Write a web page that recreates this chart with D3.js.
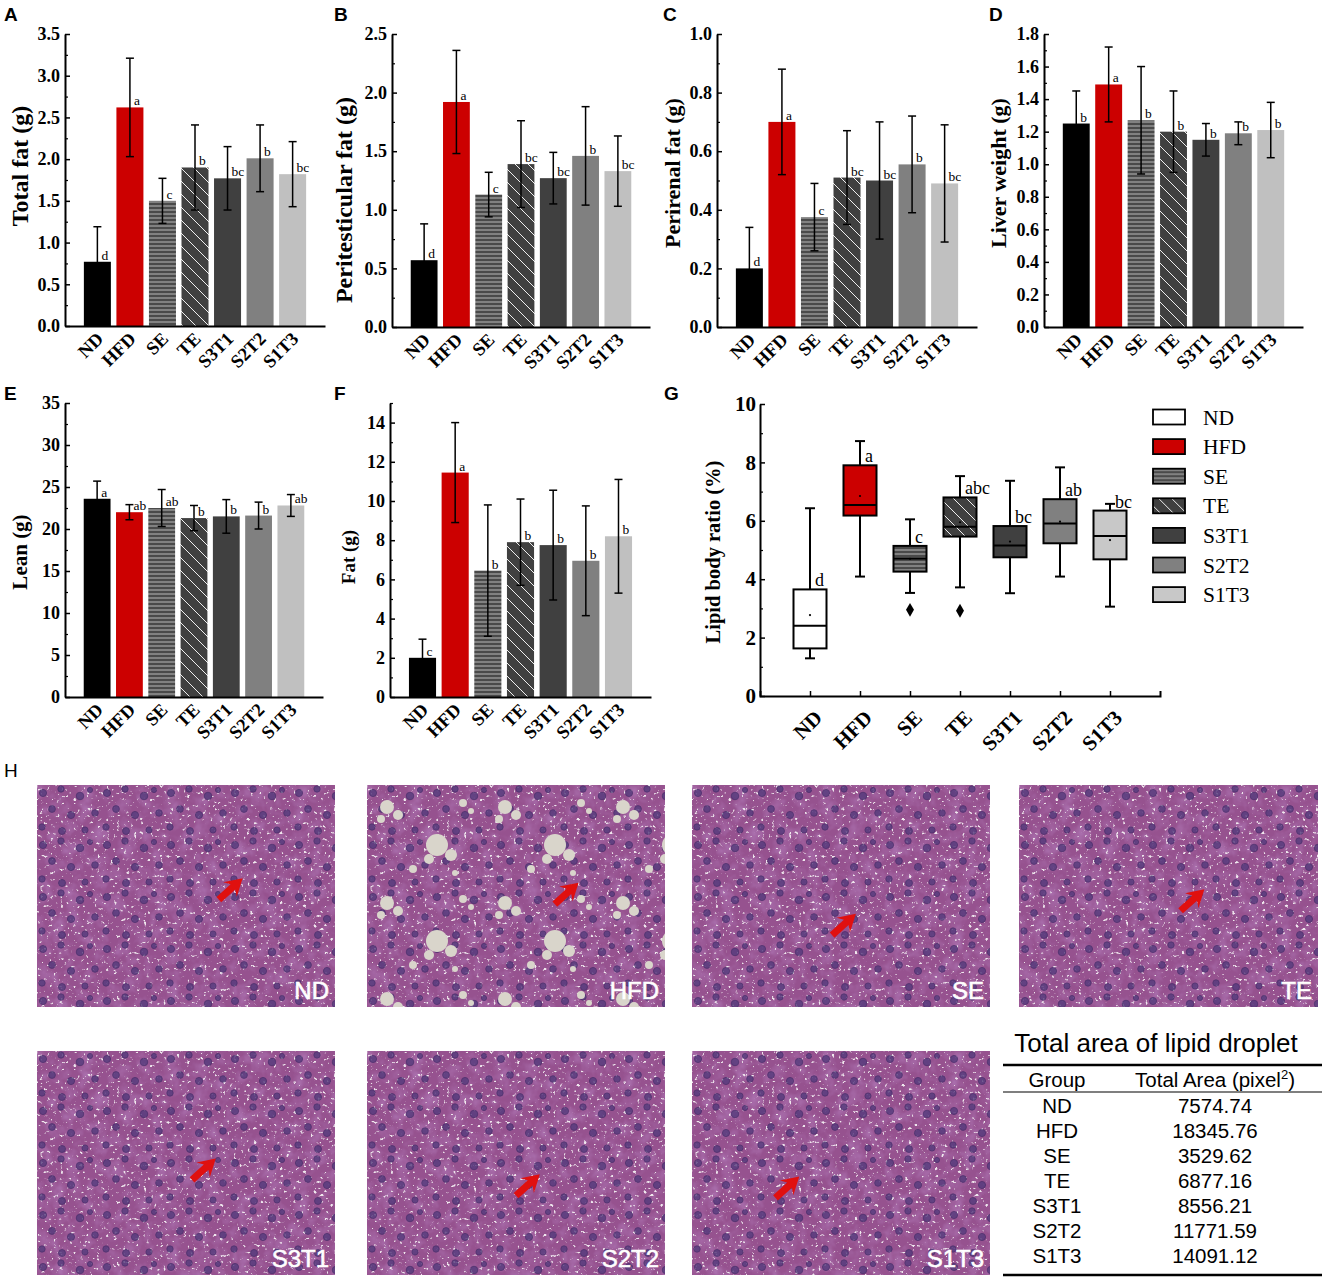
<!DOCTYPE html>
<html>
<head>
<meta charset="utf-8">
<script src="https://cdn.jsdelivr.net/npm/d3@7"></script>
<style>
  body { margin: 0; background: #fff; }
  svg { display: block; }
</style>
</head>
<body>
<div id="figure"></div>
<script>
// ---------- DATA ----------
const groups = ["ND", "HFD", "SE", "TE", "S3T1", "S2T2", "S1T3"];

// A: total fat (g)
const totalFatMean = [0.77, 2.62, 1.50, 1.90, 1.77, 2.01, 1.82];
const totalFatSD   = [0.42, 0.59, 0.27, 0.51, 0.38, 0.40, 0.39];
const totalFatSig  = ["d", "a", "c", "b", "bc", "b", "bc"];

// B: peritesticular fat (g)
const periTestMean = [0.57, 1.92, 1.13, 1.39, 1.27, 1.46, 1.33];
const periTestSD   = [0.31, 0.44, 0.19, 0.37, 0.22, 0.42, 0.30];
const periTestSig  = ["d", "a", "c", "bc", "bc", "b", "bc"];

// C: perirenal fat (g)
const periRenalMean = [0.20, 0.70, 0.375, 0.51, 0.50, 0.555, 0.49];
const periRenalSD   = [0.14, 0.18, 0.115, 0.16, 0.20, 0.165, 0.20];
const periRenalSig  = ["d", "a", "c", "bc", "bc", "b", "bc"];

// D: liver weight (g)
const liverMean = [1.25, 1.49, 1.27, 1.20, 1.15, 1.19, 1.21];
const liverSD   = [0.20, 0.23, 0.33, 0.25, 0.10, 0.07, 0.17];
const liverSig  = ["b", "a", "b", "b", "b", "b", "b"];

// E: lean (g)
const leanMean = [23.6, 22.0, 22.5, 21.3, 21.5, 21.6, 22.8];
const leanSD   = [2.1, 0.9, 2.2, 1.5, 2.0, 1.6, 1.3];
const leanSig  = ["a", "ab", "ab", "b", "b", "b", "ab"];

// F: fat (g)
const fatMean = [2.0, 11.45, 6.45, 7.9, 7.75, 6.95, 8.2];
const fatSD   = [0.95, 2.55, 3.35, 2.2, 2.8, 2.8, 2.9];
const fatSig  = ["c", "a", "b", "b", "b", "b", "b"];

// G: lipid body ratio (%) box plot
const lipidMin      = [1.29, 4.09, 3.53, 3.72, 3.52, 4.09, 3.06];
const lipidQ1       = [1.63, 6.18, 4.26, 5.46, 4.75, 5.23, 4.68];
const lipidMedian   = [2.41, 6.54, 4.71, 5.80, 5.15, 5.91, 5.48];
const lipidQ3       = [3.65, 7.90, 5.14, 6.80, 5.82, 6.74, 6.35];
const lipidMax      = [6.43, 8.73, 6.05, 7.53, 7.37, 7.83, 6.58];
const lipidMean     = [2.77, 6.85, 4.70, 5.95, 5.29, 5.97, 5.34];
const lipidOutliers = [[], [], [2.95], [2.92], [], [], []];
const lipidSig      = ["d", "a", "c", "abc", "bc", "ab", "bc"];

// H: table
const areaValues = [7574.74, 18345.76, 3529.62, 6877.16, 8556.21, 11771.59, 14091.12];

// ---------- STYLE ----------
const SERIF = "'Liberation Serif','Times New Roman',serif";
const SANS = "'Liberation Sans',Arial,sans-serif";
const barFill = ["#000000", "#cc0000", "url(#patSE)", "url(#patTE)", "#404040", "#808080", "#c0c0c0"];
const boxFill = ["#ffffff", "#cc0000", "url(#patSE)", "url(#patTE)", "#404040", "#808080", "#c8c8c8"];

const barPanels = [
  { tag: "A", tagPos: [4, 21], mean: totalFatMean, sd: totalFatSD, sig: totalFatSig,
    label: "Total fat (g)", labelSize: 24, labelX: 28, labelCy: 166,
    max: 3.5, step: 0.5, fmt: ".1f", box: [65, 325, 34, 326] },
  { tag: "B", tagPos: [334, 21], mean: periTestMean, sd: periTestSD, sig: periTestSig,
    label: "Peritesticular fat (g)", labelSize: 24, labelX: 352, labelCy: 200,
    max: 2.5, step: 0.5, fmt: ".1f", box: [392, 650, 34, 327] },
  { tag: "C", tagPos: [663, 21], mean: periRenalMean, sd: periRenalSD, sig: periRenalSig,
    label: "Perirenal fat (g)", labelSize: 22, labelX: 680, labelCy: 173,
    max: 1.0, step: 0.2, fmt: ".1f", box: [717, 977, 34, 327] },
  { tag: "D", tagPos: [989, 21], mean: liverMean, sd: liverSD, sig: liverSig,
    label: "Liver weight (g)", labelSize: 22, labelX: 1006, labelCy: 173,
    max: 1.8, step: 0.2, fmt: ".1f", box: [1044, 1303, 34, 327] },
  { tag: "E", tagPos: [4, 400], mean: leanMean, sd: leanSD, sig: leanSig,
    label: "Lean (g)", labelSize: 21, labelX: 27, labelCy: 552,
    max: 35, step: 5, fmt: "d", box: [65, 323, 403, 697] },
  { tag: "F", tagPos: [334, 400], mean: fatMean, sd: fatSD, sig: fatSig,
    label: "Fat (g)", labelSize: 19, labelX: 355, labelCy: 557,
    max: 15, topTick: 14, step: 2, fmt: "d", box: [390, 651, 403, 697] }
];

const svg = d3.select("#figure").append("svg")
  .attr("width", 1325).attr("height", 1279)
  .attr("viewBox", "0 0 1325 1279");

// ---------- PATTERNS / FILTERS ----------
const defs = svg.append("defs");
const pSE = defs.append("pattern").attr("id", "patSE")
  .attr("patternUnits", "userSpaceOnUse").attr("width", 8).attr("height", 4);
pSE.append("rect").attr("width", 8).attr("height", 4).attr("fill", "#4a4a4a");
pSE.append("rect").attr("y", 1.5).attr("width", 8).attr("height", 1).attr("fill", "#b8b8b8");

const pTE = defs.append("pattern").attr("id", "patTE")
  .attr("patternUnits", "userSpaceOnUse").attr("width", 13).attr("height", 13);
pTE.append("rect").attr("width", 13).attr("height", 13).attr("fill", "#404040");
pTE.append("path").attr("d", "M-3,-3L16,16M-3,10L3,16M10,-3L16,3")
  .attr("stroke", "#eeeeee").attr("stroke-width", 1);

// histology placeholder texture: mottled stain + pale specks + nuclei
const fMottle = defs.append("filter").attr("id", "mottle")
  .attr("x", 0).attr("y", 0).attr("width", 1).attr("height", 1);
fMottle.append("feTurbulence").attr("type", "fractalNoise")
  .attr("baseFrequency", 0.07).attr("numOctaves", 3).attr("seed", 4);
fMottle.append("feColorMatrix").attr("type", "matrix")
  .attr("values", "0 0 0 0 0.40  0 0 0 0 0.16  0 0 0 0 0.42  2.2 0 0 0 -0.95");

const fSpeck = defs.append("filter").attr("id", "specks")
  .attr("x", 0).attr("y", 0).attr("width", 1).attr("height", 1);
fSpeck.append("feTurbulence").attr("type", "fractalNoise")
  .attr("baseFrequency", 0.3).attr("numOctaves", 2).attr("seed", 11);
fSpeck.append("feColorMatrix").attr("type", "matrix")
  .attr("values", "0 0 0 0 0.86  0 0 0 0 0.80  0 0 0 0 0.85  8 0 0 0 -5.2");

const pN = defs.append("pattern").attr("id", "nuclei")
  .attr("patternUnits", "userSpaceOnUse").attr("width", 64).attr("height", 52);
pN.selectAll("circle")
  .data([[6, 8, 3.6], [24, 4, 3.2], [43, 11, 3.8], [58, 28, 3.3], [15, 24, 3.4],
         [34, 30, 3.6], [5, 42, 3.2], [25, 46, 3.5], [48, 45, 3.1], [53, 5, 2.6]])
  .join("circle").attr("cx", d => d[0]).attr("cy", d => d[1]).attr("r", d => d[2])
  .attr("fill", "#533a7c").attr("stroke", "#3c2462").attr("stroke-width", 0.8)
  .attr("opacity", 0.8);

const pF = defs.append("pattern").attr("id", "droplets")
  .attr("patternUnits", "userSpaceOnUse").attr("width", 118).attr("height", 96);
pF.selectAll("circle")
  .data([[20, 22, 7], [31, 30, 5], [14, 34, 4], [70, 60, 11], [84, 70, 6], [62, 74, 5],
         [96, 18, 4], [104, 26, 3], [46, 84, 4], [88, 88, 3]])
  .join("circle").attr("cx", d => d[0]).attr("cy", d => d[1]).attr("r", d => d[2])
  .attr("fill", "#d9d5cb");

// ---------- HELPERS ----------
function styleAxis(ga, size) {
  ga.attr("font-family", SERIF).attr("font-size", size).attr("font-weight", "bold");
  ga.select(".domain").attr("stroke-width", 2);
  ga.selectAll(".tick line").attr("stroke-width", 1.5);
}

function panelTag(t, pos, weight) {
  svg.append("text").attr("x", pos[0]).attr("y", pos[1])
    .attr("font-family", SANS).attr("font-size", 19)
    .attr("font-weight", weight || "bold").text(t);
}

function yLabel(text, x, cy, size) {
  svg.append("text")
    .attr("transform", `translate(${x},${cy}) rotate(-90)`)
    .attr("text-anchor", "middle")
    .attr("font-family", SERIF).attr("font-weight", "bold")
    .attr("font-size", size).text(text);
}

// ---------- BAR PANELS ----------
function drawBarPanel(p) {
  const [x0, x1, y0, y1] = p.box;
  const g = svg.append("g");
  const x = d3.scaleBand().domain(groups).range([x0, x1])
    .paddingInner(0.17).paddingOuter(0.58);
  const y = d3.scaleLinear().domain([0, p.max]).range([y1, y0]);
  const top = p.topTick !== undefined ? p.topTick : p.max;
  const majors = d3.range(0, top + 1e-9, p.step);
  const minors = d3.range(p.step / 2, p.max + 1e-9, p.step);
  const cx = d => x(d) + x.bandwidth() / 2;

  g.selectAll("rect.bar").data(groups).join("rect")
    .attr("class", "bar")
    .attr("x", d => x(d)).attr("width", x.bandwidth())
    .attr("y", (d, i) => y(p.mean[i]))
    .attr("height", (d, i) => y(0) - y(p.mean[i]))
    .attr("fill", (d, i) => barFill[i]);

  const eb = g.selectAll("g.err").data(groups).join("g").attr("class", "err")
    .attr("stroke", "#000").attr("stroke-width", 1.5);
  eb.append("line")
    .attr("x1", cx).attr("x2", cx)
    .attr("y1", (d, i) => y(p.mean[i] + p.sd[i]))
    .attr("y2", (d, i) => y(p.mean[i] - p.sd[i]));
  eb.append("line")
    .attr("x1", d => cx(d) - 4).attr("x2", d => cx(d) + 4)
    .attr("y1", (d, i) => y(p.mean[i] + p.sd[i]))
    .attr("y2", (d, i) => y(p.mean[i] + p.sd[i]));
  eb.append("line")
    .attr("x1", d => cx(d) - 4).attr("x2", d => cx(d) + 4)
    .attr("y1", (d, i) => y(p.mean[i] - p.sd[i]))
    .attr("y2", (d, i) => y(p.mean[i] - p.sd[i]));

  g.selectAll("text.sig").data(groups).join("text").attr("class", "sig")
    .attr("x", d => cx(d) + 4)
    .attr("y", (d, i) => y(p.mean[i]) - 2)
    .attr("fill", "#000")
    .attr("font-family", SERIF).attr("font-size", 13.5)
    .text((d, i) => p.sig[i]);

  const ya = g.append("g").attr("transform", `translate(${x0},0)`)
    .call(d3.axisLeft(y).tickValues(majors).tickFormat(d3.format(p.fmt))
      .tickSizeInner(-5).tickSizeOuter(0).tickPadding(5));
  styleAxis(ya, 18);
  const ym = g.append("g").attr("transform", `translate(${x0},0)`)
    .call(d3.axisLeft(y).tickValues(minors).tickFormat("").tickSizeInner(-3).tickSizeOuter(0));
  ym.select(".domain").remove();
  ym.selectAll(".tick line").attr("stroke-width", 1.2);

  const xa = g.append("g").attr("transform", `translate(0,${y1})`)
    .call(d3.axisBottom(x).tickSize(0).tickSizeOuter(0));
  styleAxis(xa, 18.5);
  xa.selectAll(".tick text")
    .attr("x", null).attr("y", null).attr("dy", null)
    .attr("text-anchor", "end")
    .attr("transform", "translate(7,14) rotate(-45)");

  panelTag(p.tag, p.tagPos);
  yLabel(p.label, p.labelX, p.labelCy, p.labelSize);
}

barPanels.forEach(drawBarPanel);

// ---------- G: BOX PLOT ----------
(function drawBoxPanel() {
  const g = svg.append("g");
  const x = d3.scalePoint().domain(groups).range([760, 1160]).padding(1);
  const y = d3.scaleLinear().domain([0, 10]).range([696, 404]);
  const bw = 33, cap = 10;

  const box = g.selectAll("g.box").data(groups).join("g").attr("class", "box")
    .attr("stroke", "#000").attr("stroke-width", 2);
  box.append("line")
    .attr("x1", d => x(d)).attr("x2", d => x(d))
    .attr("y1", (d, i) => y(lipidMax[i])).attr("y2", (d, i) => y(lipidQ3[i]));
  box.append("line")
    .attr("x1", d => x(d)).attr("x2", d => x(d))
    .attr("y1", (d, i) => y(lipidQ1[i])).attr("y2", (d, i) => y(lipidMin[i]));
  box.append("line")
    .attr("x1", d => x(d) - cap / 2).attr("x2", d => x(d) + cap / 2)
    .attr("y1", (d, i) => y(lipidMax[i])).attr("y2", (d, i) => y(lipidMax[i]));
  box.append("line")
    .attr("x1", d => x(d) - cap / 2).attr("x2", d => x(d) + cap / 2)
    .attr("y1", (d, i) => y(lipidMin[i])).attr("y2", (d, i) => y(lipidMin[i]));
  box.append("rect")
    .attr("x", d => x(d) - bw / 2).attr("width", bw)
    .attr("y", (d, i) => y(lipidQ3[i]))
    .attr("height", (d, i) => y(lipidQ1[i]) - y(lipidQ3[i]))
    .attr("fill", (d, i) => boxFill[i]);
  box.append("line")
    .attr("x1", d => x(d) - bw / 2).attr("x2", d => x(d) + bw / 2)
    .attr("y1", (d, i) => y(lipidMedian[i])).attr("y2", (d, i) => y(lipidMedian[i]));
  box.append("circle")
    .attr("cx", d => x(d)).attr("cy", (d, i) => y(lipidMean[i]))
    .attr("r", 1.1).attr("stroke", "none").attr("fill", "#000");

  const outl = groups.flatMap((d, i) => lipidOutliers[i].map(v => ({ g: d, v })));
  g.selectAll("path.out").data(outl).join("path").attr("class", "out")
    .attr("transform", d => `translate(${x(d.g)},${y(d.v)})`)
    .attr("d", d3.symbol(d3.symbolDiamond, 55)).attr("fill", "#000");

  g.selectAll("text.sig").data(groups).join("text").attr("class", "sig")
    .attr("x", d => x(d) + 5).attr("y", (d, i) => y(lipidQ3[i]) - 3)
    .attr("fill", "#000")
    .attr("font-family", SERIF).attr("font-size", 18)
    .text((d, i) => lipidSig[i]);

  const ya = g.append("g").attr("transform", "translate(760,0)")
    .call(d3.axisLeft(y).tickValues(d3.range(0, 11, 2))
      .tickSizeInner(-5).tickSizeOuter(0).tickPadding(4));
  styleAxis(ya, 21);
  const ym = g.append("g").attr("transform", "translate(760,0)")
    .call(d3.axisLeft(y).tickValues(d3.range(1, 10, 2)).tickFormat("").tickSizeInner(-3).tickSizeOuter(0));
  ym.select(".domain").remove();
  ym.selectAll(".tick line").attr("stroke-width", 1.2);

  const xa = g.append("g").attr("transform", "translate(0,696)")
    .call(d3.axisBottom(x).tickSizeInner(-5).tickSizeOuter(-5).tickPadding(0));
  styleAxis(xa, 21);
  xa.selectAll(".tick text")
    .attr("x", null).attr("y", null).attr("dy", null)
    .attr("text-anchor", "end")
    .attr("transform", "translate(13,23) rotate(-45)");

  // legend
  const lg = svg.append("g").attr("transform", "translate(1153,417)");
  const row = lg.selectAll("g").data(groups).join("g")
    .attr("transform", (d, i) => `translate(0,${i * 29.6})`);
  row.append("rect").attr("x", 0).attr("y", -7.5).attr("width", 32).attr("height", 15)
    .attr("fill", (d, i) => boxFill[i]).attr("stroke", "#000").attr("stroke-width", 1.8);
  row.append("text").attr("x", 50).attr("y", 7.5)
    .attr("font-family", SERIF).attr("font-size", 21.5).text(d => d);

  panelTag("G", [664, 400]);
  yLabel("Lipid body ratio (%)", 720, 552, 20.5);
})();

// ---------- H: HISTOLOGY PLACEHOLDERS ----------
const tiles = [
  { x: 37, y: 785, w: 298, h: 222, tip: [0.69, 0.42] },
  { x: 367, y: 785, w: 298, h: 222, tip: [0.71, 0.44] },
  { x: 692, y: 785, w: 298, h: 222, tip: [0.55, 0.58] },
  { x: 1019, y: 785, w: 299, h: 222, tip: [0.62, 0.47] },
  { x: 37, y: 1051, w: 298, h: 224, tip: [0.60, 0.48] },
  { x: 367, y: 1051, w: 298, h: 224, tip: [0.58, 0.55] },
  { x: 692, y: 1051, w: 298, h: 224, tip: [0.36, 0.56] }
];
const hg = svg.append("g");
const tile = hg.selectAll("g.tile").data(tiles).join("g").attr("class", "tile")
  .attr("transform", d => `translate(${d.x},${d.y})`);
tile.append("rect").attr("width", d => d.w).attr("height", d => d.h).attr("fill", "#96528f");
tile.append("rect").attr("width", d => d.w).attr("height", d => d.h)
  .attr("fill", "#fff").attr("filter", "url(#mottle)");
tile.append("rect").attr("width", d => d.w).attr("height", d => d.h)
  .attr("fill", "#fff").attr("filter", "url(#specks)");
tile.append("rect").attr("width", d => d.w).attr("height", d => d.h).attr("fill", "url(#nuclei)");
tile.filter((d, i) => groups[i] === "HFD").append("rect")
  .attr("width", d => d.w).attr("height", d => d.h).attr("fill", "url(#droplets)");
tile.append("path")
  .attr("transform", d => `translate(${d.tip[0] * d.w},${d.tip[1] * d.h}) rotate(-42)`)
  .attr("d", "M0,0L-17,-10L-13,-3.5L-32,-3.5L-32,3.5L-13,3.5L-17,10Z")
  .attr("fill", "#e0100f");
tile.append("text")
  .attr("x", d => d.w - 6).attr("y", d => d.h - 8)
  .attr("text-anchor", "end").attr("fill", "#fff")
  .attr("stroke", "#fff").attr("stroke-width", 0.6)
  .attr("font-family", SANS).attr("font-size", 24)
  .text((d, i) => groups[i]);

panelTag("H", [4, 777], "normal");

// ---------- TABLE ----------
const tb = svg.append("g").attr("font-family", SANS).attr("text-anchor", "middle");
tb.append("text").attr("x", 1156).attr("y", 1052).attr("font-size", 26)
  .text("Total area of lipid droplet");
tb.append("line").attr("x1", 1003).attr("x2", 1322).attr("y1", 1065).attr("y2", 1065)
  .attr("stroke", "#000").attr("stroke-width", 2.5);
tb.append("text").attr("x", 1057).attr("y", 1087).attr("font-size", 20.5).text("Group");
const hdr = tb.append("text").attr("x", 1215).attr("y", 1087).attr("font-size", 20.5);
hdr.append("tspan").text("Total Area (pixel");
hdr.append("tspan").attr("dy", -8).attr("font-size", 13).text("2");
hdr.append("tspan").attr("dy", 8).text(")");
tb.append("line").attr("x1", 1003).attr("x2", 1322).attr("y1", 1092).attr("y2", 1092)
  .attr("stroke", "#000").attr("stroke-width", 1.2);
const rows = tb.selectAll("g.row").data(groups).join("g").attr("class", "row")
  .attr("transform", (d, i) => `translate(0,${1113 + i * 25})`);
rows.append("text").attr("x", 1057).attr("font-size", 20.5).text(d => d);
rows.append("text").attr("x", 1215).attr("font-size", 20.5)
  .text((d, i) => d3.format(".2f")(areaValues[i]));
tb.append("line").attr("x1", 1003).attr("x2", 1322).attr("y1", 1275).attr("y2", 1275)
  .attr("stroke", "#000").attr("stroke-width", 2.5);
</script>
</body>
</html>
